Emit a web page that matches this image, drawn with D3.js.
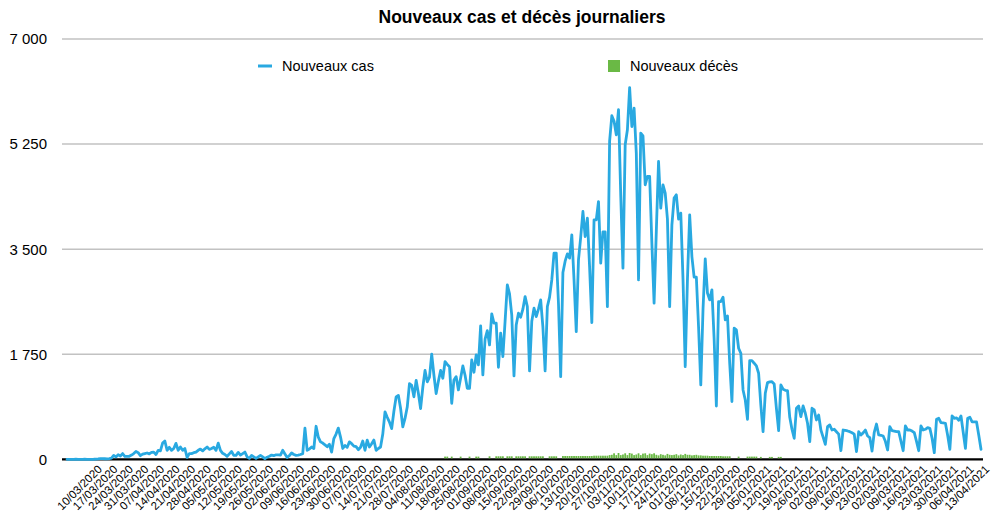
<!DOCTYPE html>
<html><head><meta charset="utf-8">
<script src="https://cdn.jsdelivr.net/npm/d3@7"></script>
<style>body{margin:0;background:#fff}svg{display:block}</style>
</head><body><svg id="c" width="1000" height="527"></svg>
<script>
const chartTitle = "Nouveaux cas et décès journaliers";
const seriesNames = ["Nouveaux cas", "Nouveaux décès"];
const firstDay = new Date(2020, 1, 27), dayAfterLast = new Date(2021, 3, 14);
const fmt = d3.timeFormat("%d/%m/%Y");
const days = d3.timeDay.range(firstDay, dayAfterLast).map(fmt);

const cases = [
0,0,0,0,1,0,0,
0,1,0,0,0,1,3,
6,10,10,9,7,12,18,
65,40,75,55,95,50,50,
50,70,95,130,110,60,85,
95,105,90,115,120,80,150,
140,270,305,150,200,150,180,
265,150,205,150,180,30,95,
95,110,120,150,170,140,175,
205,165,180,200,150,270,150,
100,80,50,90,130,65,65,
115,70,95,120,40,15,65,
40,15,40,65,40,10,35,
50,70,60,75,75,70,150,
90,30,60,105,80,65,70,
80,95,520,150,170,205,180,
550,370,290,270,240,210,250,
120,345,420,520,370,180,230,
200,290,260,220,210,160,200,
305,150,320,205,260,320,150,
180,205,420,790,700,620,510,
800,1040,1065,850,540,680,870,
1260,1230,1040,1315,1100,845,1200,
1480,1290,1370,1750,1400,1095,1300,
1480,1350,1628,1580,1543,933,1322,
1377,1155,1350,1555,1400,1183,1183,
1655,1450,1738,1572,2222,1405,2000,
2143,1905,2422,2267,2267,1533,2100,
1712,2300,2905,2755,2400,1388,2238,
2433,2366,2500,2710,2543,1472,2300,
2517,2377,2500,2655,2200,1472,2543,
2700,2988,3433,3433,2600,1377,3112,
3300,3422,3350,3738,2988,2127,3322,
3700,4127,3710,4017,3200,2277,3988,
3988,4293,3267,3788,3788,2543,5300,
5722,5630,5405,5822,4400,3183,5238,
5488,6190,5543,5850,5100,2988,5433,
5388,4572,4710,4710,3600,2600,3800,
4960,4183,4572,4433,4000,2543,3900,
4350,4405,4000,4100,3000,1543,3000,
4072,3377,3033,3033,2200,1238,2500,
3338,2767,2655,2822,2000,888,2627,
2627,2700,2322,2388,1600,962,2183,
2155,1850,1767,1155,988,667,1643,
1643,1600,1555,1433,900,460,1100,
1277,1290,1293,1255,850,477,1238,
1167,1150,1143,700,500,350,850,
888,710,888,767,600,295,850,
822,655,738,488,370,250,543,
572,488,500,460,420,143,488,
480,472,460,443,420,127,460,
405,440,488,388,360,138,450,
588,405,400,388,300,155,543,
477,470,460,460,300,143,555,
488,488,470,443,300,143,555,
488,500,527,515,350,110,667,
683,610,605,600,400,167,722,
683,690,650,722,450,183,683,
700,622,622,622,400,167
];

// deaths, starting 13/08/2020 (0 = no value shown)
const deathsFirstDay = "13/08/2020";
const deaths = [
0,0,45,45,0,45,0,
0,0,45,0,0,0,45,
0,0,45,45,0,0,0,
0,50,0,0,50,50,50,
50,0,50,50,50,0,50,
50,50,50,50,0,50,50,
50,50,50,50,50,0,0,
50,50,50,50,0,0,55,
55,55,55,55,55,55,55,
55,55,55,55,55,55,60,
60,60,60,60,60,60,70,
75,100,70,105,70,80,100,
70,105,95,70,80,100,70,
95,100,70,95,85,100,75,
65,85,75,65,90,75,70,
75,85,65,80,70,90,75,
75,65,70,75,65,65,60,
60,60,55,55,55,55,55,
55,50,50,50,50,0,0,
0,45,0,0,0,45,45,
45,45,45,0,40,0,0,
0,40,40,0,0,40,40
];

const tickLabels = ["10/03/2020","17/03/2020","24/03/2020","31/03/2020","07/04/2020","14/04/2020","21/04/2020","28/04/2020","05/05/2020","12/05/2020","19/05/2020","26/05/2020","02/06/2020","09/06/2020","16/06/2020","23/06/2020","30/06/2020","07/07/2020","14/07/2020","21/07/2020","28/07/2020","04/08/2020","11/08/2020","18/08/2020","25/08/2020","01/09/2020","08/09/2020","15/09/2020","22/09/2020","29/09/2020","06/10/2020","13/10/2020","20/10/2020","27/10/2020","03/11/2020","10/11/2020","17/11/2020","24/11/2020","01/12/2020","08/12/2020","15/12/2020","22/12/2020","29/12/2020","05/01/2021","12/01/2021","19/01/2021","26/01/2021","02/02/2021","09/02/2021","16/02/2021","23/02/2021","02/03/2021","09/03/2021","16/03/2021","23/03/2021","30/03/2021","06/04/2021","13/04/2021"];
const yTicks = [0, 1750, 3500, 5250, 7000];
const yTickLabels = ["0", "1 750", "3 500", "5 250", "7 000"];

const font = "'Liberation Sans', Arial, sans-serif";
const blue = "#29a9e1", green = "#6ab945";
const svg = d3.select("#c");
const x = d3.scalePoint().domain(days).range([67, 981]);
const y = d3.scaleLinear().domain([0, 7000]).range([459.3, 39]);

svg.append("text").attr("x", 522).attr("y", 23).attr("text-anchor", "middle")
  .attr("font-family", font).attr("font-weight", "bold").attr("font-size", 17.5).attr("fill", "#000").text(chartTitle);

svg.append("g").selectAll("line").data(yTicks.slice(1)).join("line")
  .attr("x1", 62).attr("x2", 983).attr("y1", d => y(d)).attr("y2", d => y(d))
  .attr("stroke", "#c2c2c2").attr("stroke-width", 1.5);

svg.append("g").selectAll("text").data(yTicks).join("text")
  .attr("x", 47).attr("y", d => y(d)).attr("dy", "0.36em").attr("text-anchor", "end")
  .attr("font-family", font).attr("font-size", 15).attr("fill", "#000")
  .text((d, i) => yTickLabels[i]);

svg.append("line").attr("x1", 62).attr("x2", 983).attr("y1", y(0)).attr("y2", y(0))
  .attr("stroke", "#000").attr("stroke-width", 2.2);

const d0 = days.indexOf(deathsFirstDay);
svg.append("g").selectAll("rect").data(deaths.map((v, k) => ({day: days[d0 + k], v})).filter(d => d.v > 0)).join("rect")
  .attr("x", d => x(d.day) - 0.9).attr("width", 1.8)
  .attr("y", d => y(d.v)).attr("height", d => y(0) - y(d.v) - 1)
  .attr("fill", green);

svg.append("path").datum(cases)
  .attr("d", d3.line().x((d, i) => x(days[i])).y(d => y(d)))
  .attr("fill", "none").attr("stroke", blue).attr("stroke-width", 2.8)
  .attr("stroke-linejoin", "round").attr("stroke-linecap", "round");

svg.append("g").selectAll("text").data(tickLabels).join("text")
  .attr("transform", d => `translate(${x(d) + 9},${470}) rotate(-45)`)
  .attr("text-anchor", "end").attr("font-family", font).attr("font-size", 11.5).attr("fill", "#000")
  .text(d => d);

// legend
const lg = svg.append("g").attr("font-family", font).attr("font-size", 14.5);
lg.append("line").attr("x1", 258).attr("x2", 272).attr("y1", 66).attr("y2", 66).attr("stroke", blue).attr("stroke-width", 3);
lg.append("text").attr("x", 282).attr("y", 71).text(seriesNames[0]);
lg.append("rect").attr("x", 608).attr("y", 60).attr("width", 12).attr("height", 12).attr("fill", green);
lg.append("text").attr("x", 630).attr("y", 71).text(seriesNames[1]);
</script>
</body></html>
